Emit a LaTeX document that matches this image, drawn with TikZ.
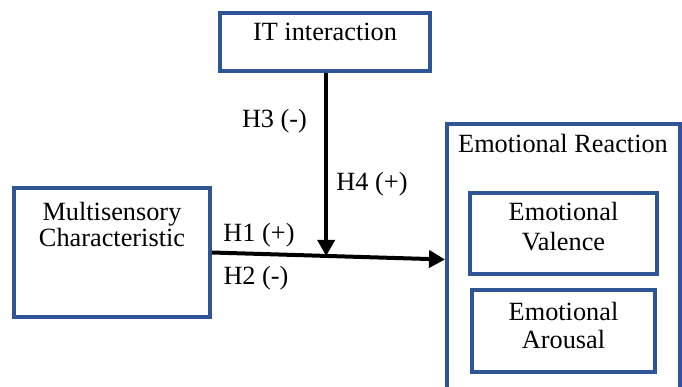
\documentclass[tikz,border=0pt]{standalone}
\usepackage{fontspec}
\setmainfont{Liberation Serif}
\usetikzlibrary{arrows.meta,calc}
\definecolor{boxblue}{RGB}{47,85,151}
\begin{document}
\begin{tikzpicture}[x=1pt,y=-1pt,
  box/.style={draw=boxblue, line width=4pt, fill=white, inner sep=0pt},
  txt/.style={font=\fontsize{26.3}{30}\selectfont, align=center, inner sep=0pt},
  conn/.style={line width=4pt, -{Triangle[length=16pt,width=17pt]}}]
\useasboundingbox (0,0) rectangle (682,387);
\clip (0,0) rectangle (682,387);
% boxes
\node[box, minimum width=210pt, minimum height=58pt] (it) at (325,42) {};
\node[box, minimum width=196pt, minimum height=129pt] (ms) at (112,252.5) {};
\node[box, minimum width=233pt, minimum height=271pt] (er) at (563.5,259.5) {};
\node[box, minimum width=187pt, minimum height=81pt] (val) at (563.5,233.5) {};
\node[box, minimum width=183pt, minimum height=82pt] (aro) at (563.5,331) {};
% texts
\node[txt] (itt) at (325,32) {IT interaction};
\node[txt, font=\fontsize{26.3}{26}\selectfont] (mst) at (112,225) {Multisensory\\Characteristic};
\node[txt] (ert) at (563,144) {Emotional Reaction};
\node[txt] (valt) at (563.5,227) {Emotional\\Valence};
\node[txt, font=\fontsize{26.3}{28}\selectfont] (arot) at (563.5,326) {Emotional\\Arousal};
% connectors
\coordinate (j) at ($(ms.east)!0.49!(er.west)$);
\draw[conn] (ms.east) -- (er.west);
\draw[conn] (it.south -| j) -- (j);
% labels
\node[txt] (h3) at (274.5,121) {H3 (-)};
\node[txt] (h4) at (372,184) {H4 (+)};
\node[txt] (h1) at (259,235) {H1 (+)};
\node[txt] (h2) at (256,278) {H2 (-)};
\end{tikzpicture}
\end{document}
